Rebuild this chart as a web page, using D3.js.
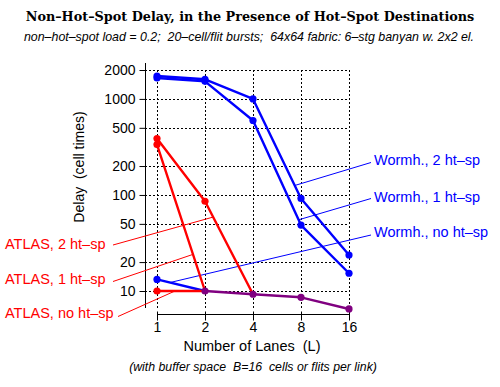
<!DOCTYPE html>
<html><head><meta charset="utf-8">
<script src="https://cdn.jsdelivr.net/npm/d3@7/dist/d3.min.js"></script>
<style>body{margin:0;background:#fff} text{white-space:pre}</style>
</head><body><svg id="c" width="500" height="387" xmlns="http://www.w3.org/2000/svg"></svg>
<script>
// ---- data ----
const lanes = [1, 2, 4, 8, 16];
const xTickLabels = ["1", "2", "4", "8", "16"];
const yTicks = [10, 20, 50, 100, 200, 500, 1000, 2000];
const wormh2 = [1730, 1600, 1000, 92, 23.7];
const wormh1 = [1650, 1525, 596, 48.6, 15.3];
const wormh0 = [13.2, 10, 9.25, 8.6, 6.5];
const atlas2 = [387, 86, 9.25, 8.6, 6.5];
const atlas1 = [335, 10, 9.25, 8.6, 6.5];
const atlas0 = [10, 10, 9.25, 8.6, 6.5];
const seriesNames = ["Wormh., 2 ht–sp", "Wormh., 1 ht–sp", "Wormh., no ht–sp",
                     "ATLAS, 2 ht–sp", "ATLAS, 1 ht–sp", "ATLAS, no ht–sp"];
const titleText = "Non–Hot–Spot Delay, in the Presence of Hot–Spot Destinations";
const subtitleText = "non–hot–spot load = 0.2;  20–cell/flit bursts;  64x64 fabric: 6–stg banyan w. 2x2 el.";
const xTitle = "Number of Lanes  (L)";
const yTitle = "Delay  (cell times)";
const footText = "(with buffer space  B=16  cells or flits per link)";

const BLUE = "#0000ff", RED = "#ff0000", PURPLE = "#800080";
const series = [
  {name: seriesNames[0], values: wormh2, fam: "w", seg: 2, t: 0.87, lx: 374, ly: 165, ax: 371, ay: 162.5},
  {name: seriesNames[1], values: wormh1, fam: "w", seg: 2, t: 0.95, lx: 374, ly: 201.5, ax: 371, ay: 198.5},
  {name: seriesNames[2], values: wormh0, fam: "w", seg: 0, t: 0.27, lx: 374, ly: 237, ax: 371, ay: 235},
  {name: seriesNames[3], values: atlas2, fam: "a", seg: 1, t: 0.17, lx: 5, ly: 249, ax: 113, ay: 245},
  {name: seriesNames[4], values: atlas1, fam: "a", seg: 0, t: 0.75, lx: 5, ly: 284, ax: 113, ay: 281.5},
  {name: seriesNames[5], values: atlas0, fam: "a", seg: 0, t: 0.375, lx: 5, ly: 318, ax: 118, ay: 316.5}
];

const svg = d3.select("#c");
const x = d3.scaleLog().base(2).domain([1, 16]).range([157, 349]);
const y = d3.scaleLog().domain([10, 2000]).range([291, 70]);
const SANS = "'Liberation Sans', Arial, Helvetica, sans-serif";

// title
svg.append("text").attr("x", 250).attr("y", 21).attr("text-anchor", "middle")
  .attr("font-family", "'DejaVu Serif', serif").attr("font-weight", "bold").attr("font-size", 12.8)
  .text(titleText);
svg.append("text").attr("x", 249).attr("y", 41).attr("text-anchor", "middle")
  .attr("font-family", SANS).attr("font-style", "italic").attr("font-size", 12.4)
  .text(subtitleText);

// grid
const grid = svg.append("g").attr("stroke", "#000").attr("stroke-width", 1).attr("stroke-dasharray", "2,2");
grid.selectAll("line.h").data(yTicks).join("line").attr("class", "h")
  .attr("x1", 145).attr("x2", x(16)).attr("y1", d => Math.round(y(d)) + 0.5).attr("y2", d => Math.round(y(d)) + 0.5);
grid.selectAll("line.v").data(lanes).join("line").attr("class", "v")
  .attr("x1", d => Math.round(x(d)) + 0.5).attr("x2", d => Math.round(x(d)) + 0.5)
  .attr("y1", y(2000)).attr("y2", 308);

// y axis
const yAxis = d3.axisLeft(y).tickValues(yTicks).tickFormat(d3.format("d")).tickSize(6).tickSizeOuter(0);
const gy = svg.append("g").attr("transform", "translate(145.5,0)").call(yAxis);
gy.select(".domain").remove();
gy.append("line").attr("y1", 63).attr("y2", 308).attr("stroke", "#000");
gy.selectAll(".tick line").attr("stroke", "#000");
gy.selectAll(".tick text").attr("font-family", SANS).attr("font-size", 14).attr("fill", "#000").attr("x", -10);

// x axis
const xAxis = d3.axisBottom(x).tickValues(lanes).tickFormat((d, i) => xTickLabels[i]).tickSize(6).tickSizeOuter(0);
const gx = svg.append("g").attr("transform", "translate(0,314.5)").call(xAxis);
gx.select(".domain").attr("d", `M${x(1)},0H${x(16)}`).attr("stroke", "#000");
gx.selectAll(".tick line").attr("y1", -3).attr("y2", 6).attr("stroke", "#000");
gx.selectAll(".tick text").attr("font-family", SANS).attr("font-size", 14).attr("fill", "#000").attr("y", 8);

// axis titles
svg.append("text").attr("x", 252).attr("y", 351).attr("text-anchor", "middle")
  .attr("font-family", SANS).attr("font-size", 14.5).text(xTitle);
svg.append("text").attr("transform", "translate(84,167) rotate(-90)").attr("text-anchor", "middle")
  .attr("font-family", SANS).attr("font-size", 14).text(yTitle);
svg.append("text").attr("x", 253).attr("y", 371).attr("text-anchor", "middle")
  .attr("font-family", SANS).attr("font-style", "italic").attr("font-size", 12.3).text(footText);

// segments & points, merged where blue and red series coincide
const segMap = new Map(), ptMap = new Map();
series.forEach(s => {
  s.values.forEach((v, i) => {
    const pk = lanes[i] + "|" + v;
    if (!ptMap.has(pk)) ptMap.set(pk, {x: lanes[i], v, fams: new Set()});
    ptMap.get(pk).fams.add(s.fam);
    if (i < s.values.length - 1) {
      const k = lanes[i] + "|" + v + "|" + lanes[i + 1] + "|" + s.values[i + 1];
      if (!segMap.has(k)) segMap.set(k, {x1: lanes[i], v1: v, x2: lanes[i + 1], v2: s.values[i + 1], fams: new Set()});
      segMap.get(k).fams.add(s.fam);
    }
  });
});
const col = f => f.size > 1 ? PURPLE : (f.has("w") ? BLUE : RED);
const order = f => f.size > 1 ? 2 : (f.has("w") ? 0 : 1);
const segs = [...segMap.values()].sort((a, b) => order(a.fams) - order(b.fams));
const pts = [...ptMap.values()].sort((a, b) => order(a.fams) - order(b.fams));

// leader lines
svg.append("g").selectAll("line").data(series).join("line")
  .attr("x1", d => d.ax).attr("y1", d => d.ay)
  .attr("x2", d => x(lanes[d.seg]) + d.t * (x(lanes[d.seg + 1]) - x(lanes[d.seg])))
  .attr("y2", d => y(d.values[d.seg]) + d.t * (y(d.values[d.seg + 1]) - y(d.values[d.seg])))
  .attr("stroke", d => d.fam === "w" ? BLUE : RED).attr("stroke-width", 1);

svg.append("g").selectAll("line").data(segs).join("line")
  .attr("x1", d => x(d.x1)).attr("y1", d => y(d.v1)).attr("x2", d => x(d.x2)).attr("y2", d => y(d.v2))
  .attr("stroke", d => col(d.fams)).attr("stroke-width", 2.4).attr("stroke-linecap", "round");
svg.append("g").selectAll("circle").data(pts).join("circle")
  .attr("cx", d => x(d.x)).attr("cy", d => y(d.v)).attr("r", 3.6).attr("fill", d => col(d.fams));

// labels
svg.append("g").selectAll("text").data(series).join("text")
  .attr("x", d => d.lx).attr("y", d => d.ly).attr("font-family", SANS).attr("font-size", 14.5)
  .attr("fill", d => d.fam === "w" ? BLUE : RED).text(d => d.name);
</script></body></html>
